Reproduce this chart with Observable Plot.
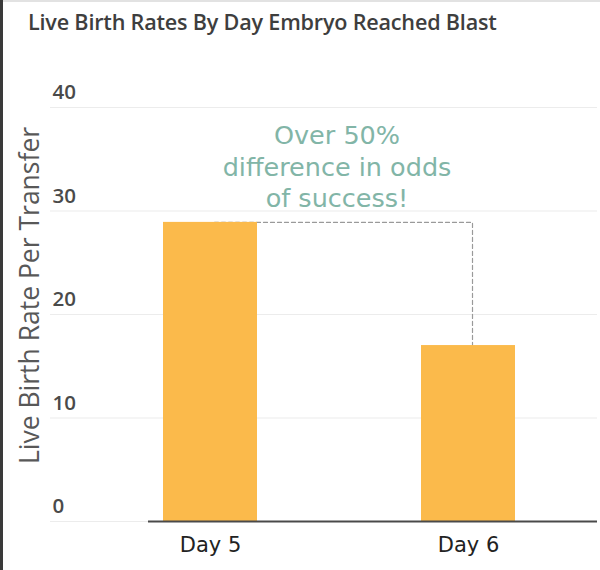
<!DOCTYPE html>
<html>
<head>
<meta charset="utf-8">
<script src="https://cdn.jsdelivr.net/npm/d3@7"></script>
<script src="https://cdn.jsdelivr.net/npm/@observablehq/plot@0.6"></script>
<style>
  html, body { margin: 0; padding: 0; background: #fff; }
  #wrap { position: relative; width: 600px; height: 570px; overflow: hidden; background: #fff; }
  #leftBorder { position: absolute; left: 0; top: 0; width: 3px; height: 570px; background: #3a3a3a; }
  #topBorder { position: absolute; left: 0; top: 0; width: 600px; height: 2px; background: #e2e2e2; }
  #title { position: absolute; left: 28px; top: 7px; font-family: "Open Sans", sans-serif; font-weight: 600; font-size: 21.6px; color: #3e3e3e; white-space: nowrap; letter-spacing: -0.2px; }
  #chart { position: absolute; left: 0; top: 50px; }
</style>
</head>
<body>
<div id="wrap">
  <div id="topBorder"></div>
  <div id="leftBorder"></div>
  <div id="title">Live Birth Rates By Day Embryo Reached Blast</div>
  <div id="chart"></div>
</div>
<script>
const days = ["Day 5", "Day 6"];
const liveBirthRates = [28.9, 17.0];
const yTicks = [0, 10, 20, 30, 40];
const yTitle = "Live Birth Rate Per Transfer";
const annotation = "Over 50%\ndifference in odds\nof success!";

const data = days.map((d, i) => ({day: d, rate: liveBirthRates[i]}));
const connector = [
  {day: days[0], rate: liveBirthRates[0]},
  {day: days[1], rate: liveBirthRates[0]},
  {day: days[1], rate: liveBirthRates[1]}
];

const chart = Plot.plot({
  width: 600,
  height: 520,
  marginLeft: 50,
  marginRight: 3,
  marginTop: 57,
  marginBottom: 49,
  style: {background: "transparent", overflow: "visible"},
  x: {domain: days, paddingInner: 0.636, paddingOuter: 0.378, align: 0.58, axis: null},
  y: {domain: [0, 40], axis: null},
  marks: [
    Plot.ruleY(yTicks, {stroke: "#ececec", strokeWidth: 1.2}),
    Plot.text(yTicks, {y: d => d, text: d => String(d), frameAnchor: "left", textAnchor: "start", dx: 2, dy: -15,
      fontFamily: "Open Sans", fontWeight: 600, fontSize: 20.5, fill: "#4a4a4a"}),
    Plot.text([yTitle], {frameAnchor: "left", textAnchor: "middle", rotate: -90, dx: -20, dy: -19,
      fontFamily: "Open Sans", fontSize: 26.5, fill: "#585858"}),
    Plot.line(connector, {x: "day", y: "rate", dx: 4, stroke: "#9a9a9a", strokeWidth: 1.2, strokeDasharray: "4,3"}),
    Plot.barY(data, {x: "day", y: "rate", fill: "#fbba4b"}),
    Plot.ruleY([0], {stroke: "#4a4a4a", strokeWidth: 2, insetLeft: 98}),
    Plot.axisX({anchor: "bottom", tickSize: 0, tickPadding: 16, fontFamily: "DejaVu Sans", fontSize: 21, fill: "#222", label: null}),
    Plot.text([annotation], {frameAnchor: "top", textAnchor: "middle", lineAnchor: "middle", dx: 13, dy: 58, lineHeight: 1.24,
      fontFamily: "DejaVu Sans", fontWeight: 400, fontSize: 25.5, fill: "#82b5a7"})
  ]
});
document.getElementById("chart").appendChild(chart);
</script>
</body>
</html>
